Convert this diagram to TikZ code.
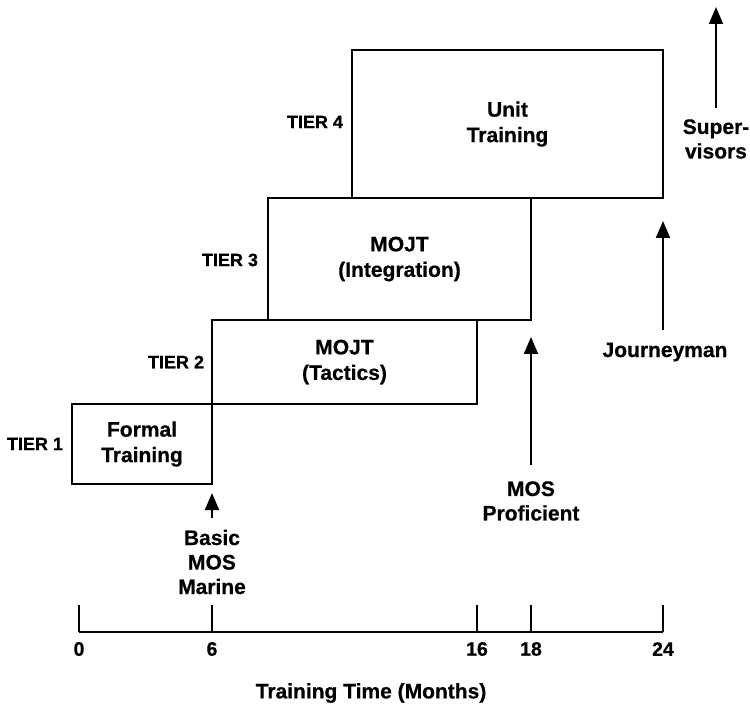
\documentclass[tikz,border=0pt]{standalone}
\usepackage{fontspec}
\setmainfont[BoldFeatures={FakeBold=0.6}]{Liberation Sans}
\usetikzlibrary{arrows.meta}
\begin{document}
\begin{tikzpicture}[x=1pt,y=-1pt,line width=2pt,
  tierbox/.style={draw,line width=2pt,inner sep=0pt,outer sep=0pt,
    font=\fontsize{21}{25.5}\selectfont\bfseries,align=center},
  tierlab/.style={font=\fontsize{18}{20}\selectfont\bfseries,anchor=east,inner sep=0pt},
  ticklab/.style={font=\fontsize{19.5}{20}\selectfont\bfseries,inner sep=0pt},
  notelab/.style={font=\fontsize{21}{24.5}\selectfont\bfseries,align=center,inner sep=0pt},
  uparrow/.style={-{Triangle[width=14pt,length=17pt]},line width=2pt}]
\useasboundingbox (0,0) rectangle (750,708);
% tier boxes
\node[tierbox,minimum width=140pt,minimum height=80pt] (t1) at (142,444) {Formal\\Training};
\node[tierbox,minimum width=265pt,minimum height=84pt] (t2) at (344.5,362) {MOJT\\(Tactics)};
\node[tierbox,minimum width=263pt,minimum height=122pt] (t3) at (399.5,259) {MOJT\\(Integration)};
\node[tierbox,minimum width=311pt,minimum height=148pt] (t4) at (507.5,124) {Unit\\Training};
% tier labels
\node[tierlab] (l1) at ([xshift=-8pt]t1.west) {TIER 1};
\node[tierlab] (l2) at ([xshift=-7pt]t2.west) {TIER 2};
\node[tierlab] (l3) at ([xshift=-9pt,yshift=-1pt]t3.west) {TIER 3};
\node[tierlab] (l4) at ([xshift=-8pt,yshift=2pt]t4.west) {TIER 4};
% axis
\coordinate (a0) at (79,632);
\coordinate (a6) at (212,632);
\coordinate (a16) at (477,632);
\coordinate (a18) at (531,632);
\coordinate (a24) at (663,632);
\coordinate (b0) at (79,605);
\coordinate (b6) at (212,605);
\coordinate (b16) at (477,605);
\coordinate (b18) at (531,605);
\coordinate (b24) at (663,605);
\draw (a0) -- (a24);
\foreach \n in {0,6,16,18,24} {
  \draw (a\n) -- (b\n);
  \node[ticklab] (n\n) at ([yshift=-17pt]a\n) {\n};
}
\node[notelab] (axt) at (371,693) {Training Time (Months)};
% milestone arrows
\coordinate (p1s) at (212,518);
\coordinate (p1e) at (212,493);
\coordinate (p2s) at (531,465);
\coordinate (p2e) at (531,337);
\coordinate (p3s) at (663,330);
\coordinate (p3e) at (663,221);
\coordinate (p4s) at (716,108);
\coordinate (p4e) at (716,7);
\draw[uparrow] (p1s) -- (p1e);
\draw[uparrow] (p2s) -- (p2e);
\draw[uparrow] (p3s) -- (p3e);
\draw[uparrow] (p4s) -- (p4e);
\node[notelab] (m1) at (212,562) {Basic\\MOS\\Marine};
\node[notelab] (m2) at (531,501) {MOS\\Proficient};
\node[notelab] (m3) at (665,352) {Journeyman};
\node[notelab] (m4) at (716,139) {Super-\\visors};
\end{tikzpicture}
\end{document}
